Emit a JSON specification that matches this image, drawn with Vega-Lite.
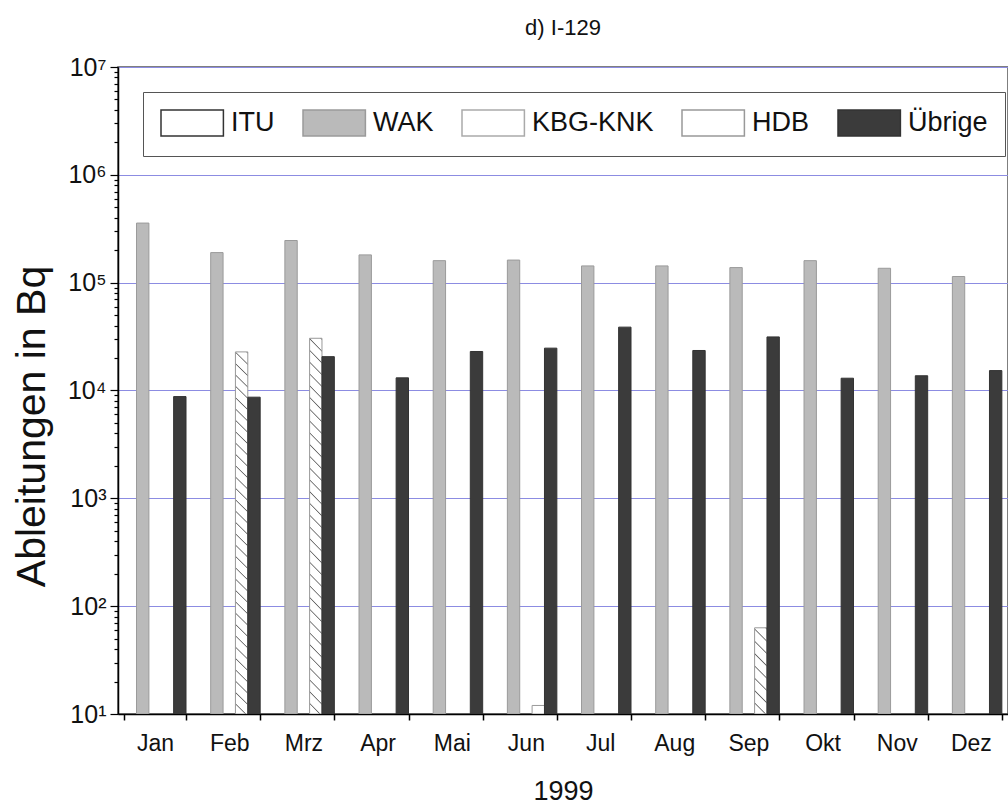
{
  "$schema": "https://vega.github.io/schema/vega-lite/v6.json",
  "autosize": {"type": "none"},
  "padding": {"left": 118, "top": 67, "right": 0, "bottom": 95},
  "width": 890,
  "height": 647,
  "background": "white",
  "config": {
    "font": "Liberation Sans",
    "view": {"stroke": "#555555", "strokeWidth": 1.5}
  },
  "title": {"text": "d) I-129", "fontSize": 22, "fontWeight": "normal", "color": "#111111", "anchor": "middle", "offset": 15},
  "data": {
    "values": [
      {"month": "Jan", "source": "WAK", "value": 357000},
      {"month": "Feb", "source": "WAK", "value": 190000},
      {"month": "Mrz", "source": "WAK", "value": 246000},
      {"month": "Apr", "source": "WAK", "value": 181000},
      {"month": "Mai", "source": "WAK", "value": 160000},
      {"month": "Jun", "source": "WAK", "value": 162000},
      {"month": "Jul", "source": "WAK", "value": 143000},
      {"month": "Aug", "source": "WAK", "value": 143000},
      {"month": "Sep", "source": "WAK", "value": 138000},
      {"month": "Okt", "source": "WAK", "value": 160000},
      {"month": "Nov", "source": "WAK", "value": 136000},
      {"month": "Dez", "source": "WAK", "value": 114000},
      {"month": "Feb", "source": "HDB", "value": 22800},
      {"month": "Mrz", "source": "HDB", "value": 30500},
      {"month": "Jun", "source": "HDB", "value": 12},
      {"month": "Sep", "source": "HDB", "value": 63},
      {"month": "Jan", "source": "Übrige", "value": 8780},
      {"month": "Feb", "source": "Übrige", "value": 8670},
      {"month": "Mrz", "source": "Übrige", "value": 20600},
      {"month": "Apr", "source": "Übrige", "value": 13100},
      {"month": "Mai", "source": "Übrige", "value": 23000},
      {"month": "Jun", "source": "Übrige", "value": 24700},
      {"month": "Jul", "source": "Übrige", "value": 38700},
      {"month": "Aug", "source": "Übrige", "value": 23500},
      {"month": "Sep", "source": "Übrige", "value": 31400},
      {"month": "Okt", "source": "Übrige", "value": 13000},
      {"month": "Nov", "source": "Übrige", "value": 13700},
      {"month": "Dez", "source": "Übrige", "value": 15300}
    ]
  },
  "mark": {"type": "bar", "strokeWidth": 1, "clip": true},
  "encoding": {
    "x": {
      "field": "month", "type": "nominal",
      "sort": ["Jan", "Feb", "Mrz", "Apr", "Mai", "Jun", "Jul", "Aug", "Sep", "Okt", "Nov", "Dez"],
      "scale": {"paddingInner": 0.166, "paddingOuter": 0.083},
      "axis": {
        "title": "1999", "titleFontSize": 27, "titleFontWeight": "normal", "titleColor": "#111111", "titlePadding": 23,
        "labelAngle": 0, "labelFontSize": 23, "labelColor": "#111111", "labelPadding": 12,
        "tickBand": "extent", "tickSize": 6, "tickColor": "#000000", "tickWidth": 1.5,
        "domainColor": "#000000", "domainWidth": 1.5, "grid": false
      }
    },
    "xOffset": {
      "field": "source", "type": "nominal",
      "scale": {"domain": ["ITU", "WAK", "KBG-KNK", "HDB", "Übrige"], "paddingInner": 0, "paddingOuter": 0}
    },
    "y": {
      "field": "value", "type": "quantitative",
      "scale": {"type": "log", "domain": [10, 10000000], "nice": false},
      "axis": {
        "title": "Ableitungen in Bq", "titleFontSize": 41, "titleFontWeight": "normal", "titleColor": "#111111", "titlePadding": 14, "titleY": 359,
        "values": [10,20,30,40,50,60,70,80,90,100,200,300,400,500,600,700,800,900,1000,2000,3000,4000,5000,6000,7000,8000,9000,10000,20000,30000,40000,50000,60000,70000,80000,90000,100000,200000,300000,400000,500000,600000,700000,800000,900000,1000000,2000000,3000000,4000000,5000000,6000000,7000000,8000000,9000000,10000000],
        "labelExpr": "datum.value==10?'10¹':datum.value==100?'10²':datum.value==1000?'10³':datum.value==10000?'10⁴':datum.value==100000?'10⁵':datum.value==1000000?'10⁶':datum.value==10000000?'10⁷':''",
        "labelFontSize": 25, "labelColor": "#111111", "labelPadding": 4, "labelOverlap": false, "labelBound": false, "labelFlush": false,
        "tickSize": {"condition": {"test": "datum.value==10||datum.value==100||datum.value==1000||datum.value==10000||datum.value==100000||datum.value==1000000||datum.value==10000000", "value": 8}, "value": 4},
        "tickColor": "#000000", "tickWidth": 1.2,
        "domainColor": "#000000", "domainWidth": 1.5,
        "grid": true,
        "gridColor": "#8c8ce2",
        "gridOpacity": {"condition": {"test": "datum.value==10||datum.value==100||datum.value==1000||datum.value==10000||datum.value==100000||datum.value==1000000||datum.value==10000000", "value": 1}, "value": 0},
        "gridWidth": 1
      }
    },
    "y2": {"datum": 10},
    "fill": {
      "condition": [
        {"test": "datum.source === 'HDB' && (datum.month === 'Feb' || datum.month === 'Mrz')",
         "value": {"gradient": "linear", "x1": 1, "y1": 0, "x2": 0.9653, "y2": 1.0324, "stops": [
          {"offset": 0.0, "color": "#ffffff"}, {"offset": 0.0030, "color": "#666666"}, {"offset": 0.0061, "color": "#ffffff"},
          {"offset": 0.0303, "color": "#ffffff"}, {"offset": 0.0333, "color": "#666666"}, {"offset": 0.0364, "color": "#ffffff"},
          {"offset": 0.0606, "color": "#ffffff"}, {"offset": 0.0636, "color": "#666666"}, {"offset": 0.0667, "color": "#ffffff"},
          {"offset": 0.0909, "color": "#ffffff"}, {"offset": 0.0939, "color": "#666666"}, {"offset": 0.0970, "color": "#ffffff"},
          {"offset": 0.1212, "color": "#ffffff"}, {"offset": 0.1242, "color": "#666666"}, {"offset": 0.1273, "color": "#ffffff"},
          {"offset": 0.1515, "color": "#ffffff"}, {"offset": 0.1545, "color": "#666666"}, {"offset": 0.1576, "color": "#ffffff"},
          {"offset": 0.1818, "color": "#ffffff"}, {"offset": 0.1848, "color": "#666666"}, {"offset": 0.1879, "color": "#ffffff"},
          {"offset": 0.2121, "color": "#ffffff"}, {"offset": 0.2152, "color": "#666666"}, {"offset": 0.2182, "color": "#ffffff"},
          {"offset": 0.2424, "color": "#ffffff"}, {"offset": 0.2455, "color": "#666666"}, {"offset": 0.2485, "color": "#ffffff"},
          {"offset": 0.2727, "color": "#ffffff"}, {"offset": 0.2758, "color": "#666666"}, {"offset": 0.2788, "color": "#ffffff"},
          {"offset": 0.3030, "color": "#ffffff"}, {"offset": 0.3061, "color": "#666666"}, {"offset": 0.3091, "color": "#ffffff"},
          {"offset": 0.3333, "color": "#ffffff"}, {"offset": 0.3364, "color": "#666666"}, {"offset": 0.3394, "color": "#ffffff"},
          {"offset": 0.3636, "color": "#ffffff"}, {"offset": 0.3667, "color": "#666666"}, {"offset": 0.3697, "color": "#ffffff"},
          {"offset": 0.3939, "color": "#ffffff"}, {"offset": 0.3970, "color": "#666666"}, {"offset": 0.4000, "color": "#ffffff"},
          {"offset": 0.4242, "color": "#ffffff"}, {"offset": 0.4273, "color": "#666666"}, {"offset": 0.4303, "color": "#ffffff"},
          {"offset": 0.4545, "color": "#ffffff"}, {"offset": 0.4576, "color": "#666666"}, {"offset": 0.4606, "color": "#ffffff"},
          {"offset": 0.4848, "color": "#ffffff"}, {"offset": 0.4879, "color": "#666666"}, {"offset": 0.4909, "color": "#ffffff"},
          {"offset": 0.5152, "color": "#ffffff"}, {"offset": 0.5182, "color": "#666666"}, {"offset": 0.5212, "color": "#ffffff"},
          {"offset": 0.5455, "color": "#ffffff"}, {"offset": 0.5485, "color": "#666666"}, {"offset": 0.5515, "color": "#ffffff"},
          {"offset": 0.5758, "color": "#ffffff"}, {"offset": 0.5788, "color": "#666666"}, {"offset": 0.5818, "color": "#ffffff"},
          {"offset": 0.6061, "color": "#ffffff"}, {"offset": 0.6091, "color": "#666666"}, {"offset": 0.6121, "color": "#ffffff"},
          {"offset": 0.6364, "color": "#ffffff"}, {"offset": 0.6394, "color": "#666666"}, {"offset": 0.6424, "color": "#ffffff"},
          {"offset": 0.6667, "color": "#ffffff"}, {"offset": 0.6697, "color": "#666666"}, {"offset": 0.6727, "color": "#ffffff"},
          {"offset": 0.6970, "color": "#ffffff"}, {"offset": 0.7000, "color": "#666666"}, {"offset": 0.7030, "color": "#ffffff"},
          {"offset": 0.7273, "color": "#ffffff"}, {"offset": 0.7303, "color": "#666666"}, {"offset": 0.7333, "color": "#ffffff"},
          {"offset": 0.7576, "color": "#ffffff"}, {"offset": 0.7606, "color": "#666666"}, {"offset": 0.7636, "color": "#ffffff"},
          {"offset": 0.7879, "color": "#ffffff"}, {"offset": 0.7909, "color": "#666666"}, {"offset": 0.7939, "color": "#ffffff"},
          {"offset": 0.8182, "color": "#ffffff"}, {"offset": 0.8212, "color": "#666666"}, {"offset": 0.8242, "color": "#ffffff"},
          {"offset": 0.8485, "color": "#ffffff"}, {"offset": 0.8515, "color": "#666666"}, {"offset": 0.8545, "color": "#ffffff"},
          {"offset": 0.8788, "color": "#ffffff"}, {"offset": 0.8818, "color": "#666666"}, {"offset": 0.8848, "color": "#ffffff"},
          {"offset": 0.9091, "color": "#ffffff"}, {"offset": 0.9121, "color": "#666666"}, {"offset": 0.9152, "color": "#ffffff"},
          {"offset": 0.9394, "color": "#ffffff"}, {"offset": 0.9424, "color": "#666666"}, {"offset": 0.9455, "color": "#ffffff"},
          {"offset": 0.9697, "color": "#ffffff"}, {"offset": 0.9727, "color": "#666666"}, {"offset": 0.9758, "color": "#ffffff"},
          {"offset": 1.0, "color": "#ffffff"}
         ]}},
        {"test": "datum.source === 'HDB' && datum.month === 'Sep'",
         "value": {"gradient": "linear", "x1": 1, "y1": 0, "x2": 0.8386, "y2": 1.1208, "stops": [
          {"offset": 0.0, "color": "#ffffff"}, {"offset": 0.0125, "color": "#666666"}, {"offset": 0.025, "color": "#ffffff"},
          {"offset": 0.125, "color": "#ffffff"}, {"offset": 0.1375, "color": "#666666"}, {"offset": 0.15, "color": "#ffffff"},
          {"offset": 0.25, "color": "#ffffff"}, {"offset": 0.2625, "color": "#666666"}, {"offset": 0.275, "color": "#ffffff"},
          {"offset": 0.375, "color": "#ffffff"}, {"offset": 0.3875, "color": "#666666"}, {"offset": 0.4, "color": "#ffffff"},
          {"offset": 0.5, "color": "#ffffff"}, {"offset": 0.5125, "color": "#666666"}, {"offset": 0.525, "color": "#ffffff"},
          {"offset": 0.625, "color": "#ffffff"}, {"offset": 0.6375, "color": "#666666"}, {"offset": 0.65, "color": "#ffffff"},
          {"offset": 0.75, "color": "#ffffff"}, {"offset": 0.7625, "color": "#666666"}, {"offset": 0.775, "color": "#ffffff"},
          {"offset": 0.875, "color": "#ffffff"}, {"offset": 0.8875, "color": "#666666"}, {"offset": 0.9, "color": "#ffffff"},
          {"offset": 1.0, "color": "#ffffff"}
         ]}}
      ],
      "field": "source", "type": "nominal",
      "scale": {"domain": ["ITU", "WAK", "KBG-KNK", "HDB", "Übrige"], "range": ["#ffffff", "#bababa", "#ffffff", "#ffffff", "#3b3b3b"]},
      "legend": {
        "orient": "none", "legendX": 25, "legendY": 25, "direction": "horizontal", "title": null,
        "fillColor": "white", "strokeColor": "#555555", "padding": 17,
        "symbolType": "M-1,-1H3.8V1H-1Z", "symbolSize": 676, "symbolStrokeWidth": 1.5, "symbolOpacity": 1,
        "labelFontSize": 27, "labelColor": "#111111", "labelOffset": 43, "columnPadding": 25
      }
    },
    "stroke": {
      "field": "source", "type": "nominal",
      "scale": {"domain": ["ITU", "WAK", "KBG-KNK", "HDB", "Übrige"], "range": ["#333333", "#9a9a9a", "#aaaaaa", "#999999", "#333333"]},
      "legend": {
        "orient": "none", "legendX": 25, "legendY": 25, "direction": "horizontal", "title": null,
        "fillColor": "white", "strokeColor": "#555555", "padding": 17,
        "symbolType": "M-1,-1H3.8V1H-1Z", "symbolSize": 676, "symbolStrokeWidth": 1.5, "symbolOpacity": 1,
        "labelFontSize": 27, "labelColor": "#111111", "labelOffset": 43, "columnPadding": 25
      }
    }
  }
}
